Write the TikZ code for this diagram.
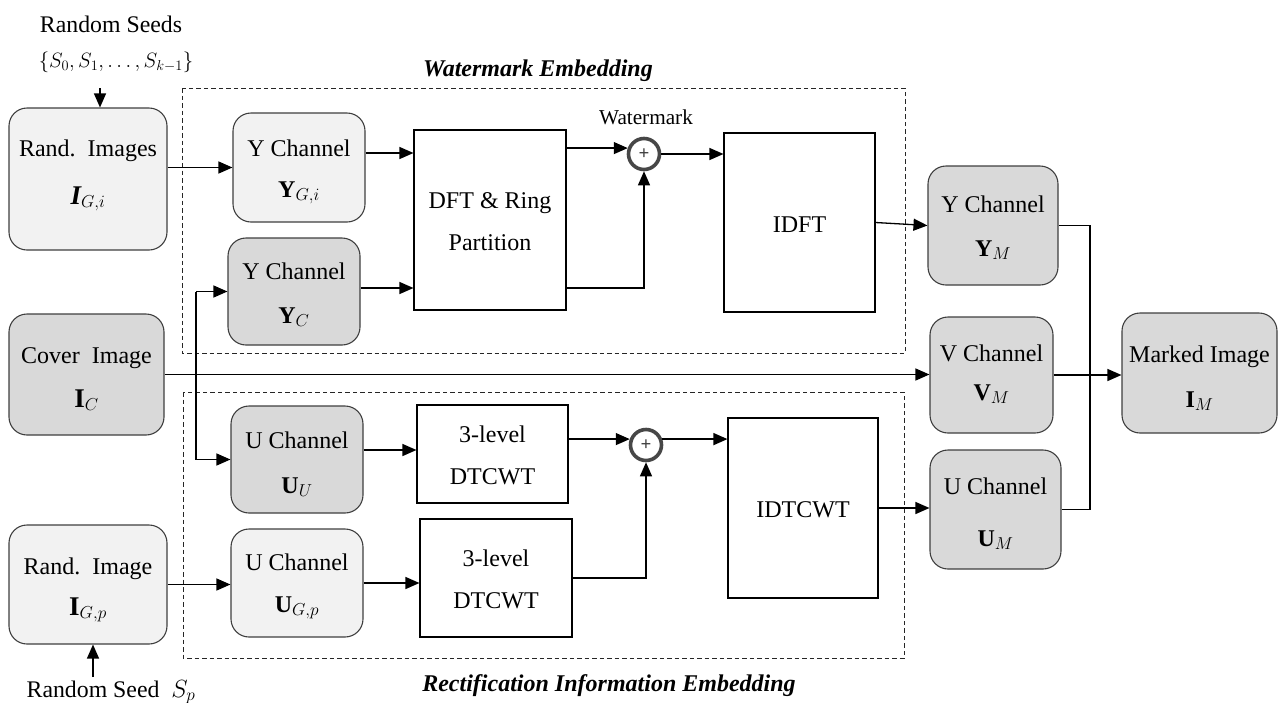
\documentclass[tikz,border=0pt]{standalone}
\usepackage{fontspec}
\setmainfont{Liberation Serif}
\usetikzlibrary{arrows.meta,calc}
\definecolor{lightfill}{HTML}{F2F2F2}
\definecolor{darkfill}{HTML}{D9D9D9}
\definecolor{edge}{HTML}{3F3F3F}
\begin{document}
\begin{tikzpicture}[x=1pt,y=-1pt,
  rbox/.style={draw=edge,line width=1.1pt,rounded corners=18pt,inner sep=0pt},
  wbox/.style={draw=black,line width=1.1pt,fill=white,inner sep=0pt},
  txt/.style={font=\fontsize{24}{29}\selectfont,inner sep=0pt,anchor=base},
  bigtxt/.style={font=\fontsize{27}{32}\selectfont,inner sep=0pt,anchor=base},
  smalltxt/.style={font=\fontsize{23.8}{28}\selectfont,inner sep=0pt,anchor=base},
  settxt/.style={font=\fontsize{21}{25}\selectfont,inner sep=0pt,anchor=base},
  wmtxt/.style={font=\fontsize{21.2}{25}\selectfont,inner sep=0pt,anchor=base},
  arr/.style={line width=1.3pt,-{Triangle[length=14pt,width=12pt]}},
  wire/.style={line width=1.3pt},
  group/.style={draw=black!85,line width=0.9pt,dash pattern=on 4.5pt off 3pt},
  adder/.style={circle,draw=black!72,line width=3.6pt,inner sep=0pt,minimum size=31pt,font=\fontsize{19}{19}\selectfont\bfseries,text=black!75},
  title/.style={font=\fontsize{24}{28}\selectfont\bfseries\itshape,inner sep=0pt,anchor=base}]

\useasboundingbox (0,0) rectangle (1279,702);

% dashed groups
\draw[group] (182,88) rectangle (905,353);
\draw[group] (183,392) rectangle (904,658);
\node[title] (wtitle) at (538,76) {Watermark Embedding};
\node[title] (rtitle) at (609,691) {Rectification Information Embedding};

% boxes
\node[rbox,fill=lightfill,minimum width=158pt,minimum height=142pt] (rimg) at (88,179) {};
\node[rbox,fill=lightfill,minimum width=132pt,minimum height=109pt] (ygi) at (299,167.5) {};
\node[rbox,fill=darkfill,minimum width=132pt,minimum height=107pt] (yc) at (294,291.5) {};
\node[wbox,minimum width=152pt,minimum height=180pt] (dft) at (490,220) {};
\node[wbox,minimum width=151pt,minimum height=179pt] (idft) at (799.5,222.5) {};
\node[rbox,fill=darkfill,minimum width=130pt,minimum height=119pt] (ym) at (993,225.5) {};
\node[rbox,fill=darkfill,minimum width=123pt,minimum height=116pt] (vm) at (991.5,375) {};
\node[rbox,fill=darkfill,minimum width=131pt,minimum height=119pt] (um) at (995.5,509.5) {};
\node[rbox,fill=darkfill,minimum width=155pt,minimum height=120pt] (mk) at (1199.5,373) {};
\node[rbox,fill=darkfill,minimum width=155pt,minimum height=121pt] (cov) at (86.5,374.5) {};
\node[rbox,fill=darkfill,minimum width=132pt,minimum height=107pt] (uu) at (297,459.5) {};
\node[rbox,fill=lightfill,minimum width=132pt,minimum height=108pt] (ugp) at (297,583) {};
\node[rbox,fill=lightfill,minimum width=158pt,minimum height=119pt] (rip) at (88,584.5) {};
\node[wbox,minimum width=151pt,minimum height=98pt] (dt1) at (492.5,454) {};
\node[wbox,minimum width=152pt,minimum height=118pt] (dt2) at (496,578) {};
\node[wbox,minimum width=150pt,minimum height=180pt] (idt) at (803,508) {};
\node[adder] (plus1) at (644,154) {+};
\node[adder] (plus2) at (646,445) {+};

% texts
\node[smalltxt] (seeds-a) at (111,32) {Random Seeds};
\node[settxt] (seeds-b) at (116,67) {$\{S_0,S_1,\ldots,S_{k-1}\}$};
\node[smalltxt] (seedp) at (111,697) {Random Seed~~$S_p$};
\node[wmtxt] (wmlabel) at (646,124) {Watermark};

\node[txt] (rimg-a) at (88,156) {Rand.~~Images};
\node[bigtxt] (rimg-b) at (88,204) {$\mbox{\bfseries\itshape I}_{G,i}$};
\node[txt] (ygi-a) at (299,156) {Y Channel};
\node[txt] (ygi-b) at (299,197) {$\mathbf{Y}_{G,i}$};
\node[txt] (yc-a) at (294,279) {Y Channel};
\node[txt] (yc-b) at (294,323) {$\mathbf{Y}_{C}$};
\node[txt] (dft-a) at (490,208) {DFT \& Ring};
\node[txt] (dft-b) at (490,250) {Partition};
\node[txt] (idft-a) at (799.5,232) {IDFT};
\node[txt] (ym-a) at (993,212) {Y Channel};
\node[txt] (ym-b) at (993,256) {$\mathbf{Y}_{M}$};
\node[txt] (vm-a) at (991.5,361) {V Channel};
\node[txt] (vm-b) at (991.5,400) {$\mathbf{V}_{M}$};
\node[txt] (um-a) at (995.5,494) {U Channel};
\node[txt] (um-b) at (995.5,546) {$\mathbf{U}_{M}$};
\node[txt] (mk-a) at (1199.5,362) {Marked Image};
\node[txt] (mk-b) at (1199.5,407) {$\mathbf{I}_{M}$};
\node[txt] (cov-a) at (86.5,363) {Cover~~Image};
\node[bigtxt] (cov-b) at (86.5,407) {$\mathbf{I}_{C}$};
\node[txt] (uu-a) at (297,448) {U Channel};
\node[txt] (uu-b) at (297,493) {$\mathbf{U}_{U}$};
\node[txt] (ugp-a) at (297,570) {U Channel};
\node[txt] (ugp-b) at (297,612) {$\mathbf{U}_{G,p}$};
\node[txt] (rip-a) at (88,574) {Rand.~~Image};
\node[bigtxt] (rip-b) at (88,615) {$\mathbf{I}_{G,p}$};
\node[txt] (dt1-a) at (492.5,442) {3-level};
\node[txt] (dt1-b) at (492.5,484) {DTCWT};
\node[txt] (dt2-a) at (496,566) {3-level};
\node[txt] (dt2-b) at (496,608) {DTCWT};
\node[txt] (idt-a) at (803,517) {IDTCWT};

% connectors
\coordinate (seedtop) at (100,88);
\coordinate (seedbot) at (93,677);
\coordinate (feedx) at (196,0);
\coordinate (mergex) at (1090,0);
\draw[arr] (seedtop) -- (seedtop |- rimg.north);
\draw[arr] (rimg.east |- ygi.west) -- (ygi.west);
\draw[arr] ([yshift=14.5pt]ygi.east) -- ([yshift=14.5pt]ygi.east -| dft.west);
\draw[arr] ([yshift=3.5pt]yc.east) -- ([yshift=3.5pt]yc.east -| dft.west);
\draw[arr] (feedx |- yc.west) -- (yc.west);
\draw[arr] (feedx |- yc.west) -- (feedx |- uu.west) -- (uu.west);
\draw[arr] (cov.east) -- (cov.east -| vm.west);
\draw[arr] ([yshift=9.5pt]uu.east) -- ([yshift=9.5pt]uu.east -| dt1.west);
\draw[arr] (ugp.east) -- (ugp.east -| dt2.west);
\draw[arr] (rip.east) -- (rip.east -| ugp.west);
\draw[arr] (seedbot) -- (seedbot |- rip.south);
\draw[arr] (dft.east |- plus1.160) -- (plus1.160);
\draw[arr] ([yshift=-68pt]dft.east) -| (plus1.south);
\draw[arr] (plus1.east) -- (plus1.east -| idft.west);
\draw[arr] (idft.east) -- (ym.west);
\draw[arr] (dt1.east |- plus2.160) -- (plus2.160);
\draw[arr] (dt2.east) -| (plus2.south);
\draw[arr] (plus2.20) -- (plus2.20 -| idt.west);
\draw[arr] (idt.east) -- (idt.east -| um.west);
\draw[wire] (ym.east) -- (ym.east -| mergex) -- (mergex |- um.east) -- (um.east);
\draw[arr] (vm.east) -- (vm.east -| mk.west);
\end{tikzpicture}
\end{document}
